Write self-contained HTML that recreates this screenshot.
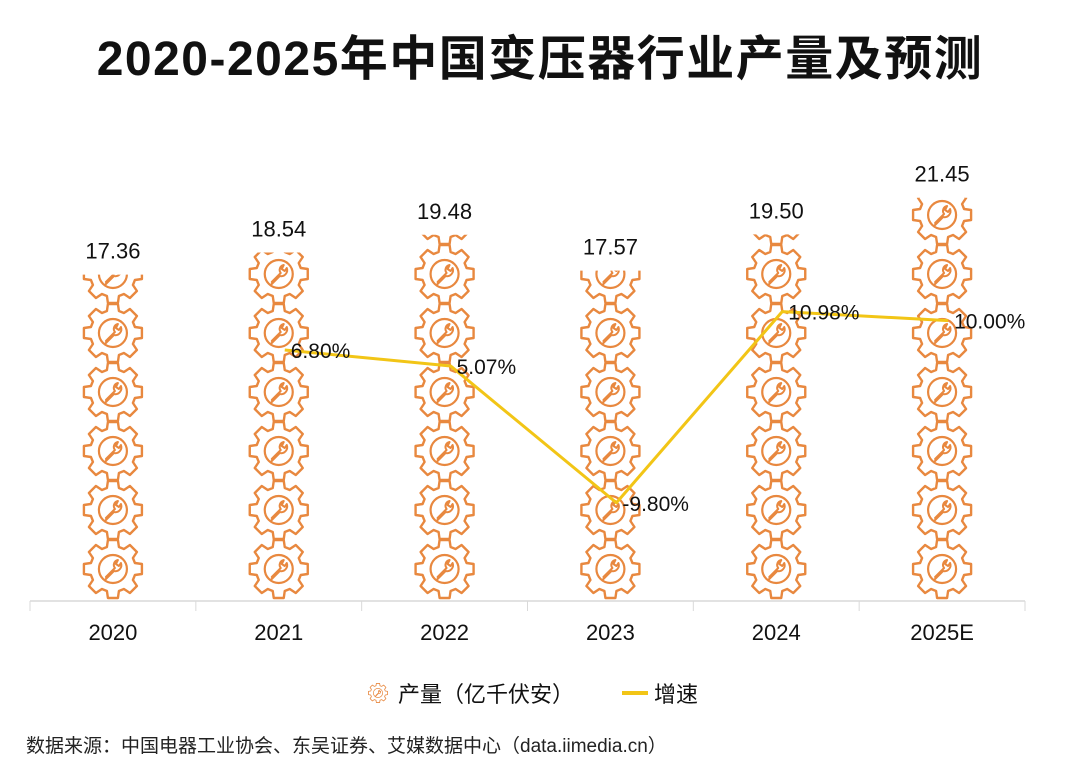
<!DOCTYPE html>
<html><head><meta charset="utf-8">
<style>
body{margin:0;background:#fff;}
svg{display:block;font-family:"Liberation Sans","Noto Sans CJK SC",sans-serif;}
</style></head>
<body>
<svg id="chart" width="1080" height="771" viewBox="0 0 1080 771" xmlns="http://www.w3.org/2000/svg">
<defs>
<g id="gear">
<path d="M-5,-29 L5,-29 L6,-22 L11,-20 L17,-24 L24,-17 L20,-11 L22,-6 L29,-5 L29,5 L22,6 L20,11 L24,17 L17,24 L11,20 L6,22 L5,29 L-5,29 L-6,22 L-11,20 L-17,24 L-24,17 L-20,11 L-22,6 L-29,5 L-29,-5 L-22,-6 L-20,-11 L-24,-17 L-17,-24 L-11,-20 L-6,-22 Z" fill="none" stroke="#E8883F" stroke-width="2.4" stroke-linejoin="round"/>
<circle r="14" fill="none" stroke="#E8883F" stroke-width="2.2"/>
<path d="M-7,8 L2,-1 A5,5 0 0 1 5,-9 L3,-5 L6,-3 L8,-6 A6,6 0 0 1 1,2 L-8,11" fill="none" stroke="#E8883F" stroke-width="2" stroke-linejoin="round" stroke-linecap="round"/>
</g>
</defs>
<text x="540" y="75" text-anchor="middle" font-size="48" font-weight="bold" letter-spacing="1.5" fill="#111">2020-2025年中国变压器行业产量及预测</text>
<g id="plot"></g>
<g>
<g>
<use href="#gear" transform="translate(378,693) scale(0.33)"/>
<text x="398" y="702" font-size="22" fill="#111">产量（亿千伏安）</text>
</g>
<g>
<line x1="622" y1="693" x2="648" y2="693" stroke="#F2C516" stroke-width="4"/>
<text x="654" y="702" font-size="22" fill="#111">增速</text>
</g>
</g>
<text x="26" y="752" font-size="19" fill="#222">数据来源：中国电器工业协会、东吴证券、艾媒数据中心（data.iimedia.cn）</text>
</svg>
<script>
const categories=["2020","2021","2022","2023","2024","2025E"];
const outputValues=[17.36,18.54,19.48,17.57,19.50,21.45];
const growthValues=[null,6.80,5.07,-9.80,10.98,10.00];
const growthLabels=["","6.80%","5.07%","-9.80%","10.98%","10.00%"];

const NS="http://www.w3.org/2000/svg";
const plot=document.getElementById('plot');
const x0=30,x1=1025,baseY=601;
const band=(x1-x0)/categories.length;
function xPos(i){return x0+band*(i+0.5);}
function yLeft(v){return baseY-v*18.8;}
function yRight(v){return 412.6-v*9.2;}
function mk(tag,attrs){const e=document.createElementNS(NS,tag);for(const k in attrs)e.setAttribute(k,attrs[k]);return e;}

const axis=mk('line',{x1:x0,y1:baseY,x2:x1,y2:baseY,stroke:'#d9d9d9','stroke-width':1.5});


plot.appendChild(axis);
for(let i=0;i<=categories.length;i++){
  const tx=x0+band*i;
  const t=mk('line',{x1:tx,y1:baseY,x2:tx,y2:baseY+10,stroke:'#d9d9d9','stroke-width':1});
  
  
  plot.appendChild(t);
}
const defs=document.querySelector('defs');
categories.forEach((c,i)=>{
  const cx=xPos(i),top=yLeft(outputValues[i]);
  const cp=mk('clipPath',{id:'clip'+i});
  cp.appendChild(mk('rect',{x:cx-40,y:top,width:80,height:baseY-top}));
  defs.appendChild(cp);
  const g=mk('g',{'clip-path':'url(#clip'+i+')'});
  
  
  for(let k=0;k<8;k++){
    const cy=baseY-32-59*k;
    if(cy+32<top)break;
    g.appendChild(mk('use',{href:'#gear',x:cx,y:cy}));
  }
  plot.appendChild(g);
  const vl=mk('text',{x:cx,y:top-16,'text-anchor':'middle','font-size':22,fill:'#111'});
  vl.textContent=outputValues[i].toFixed(2);
  
  
  plot.appendChild(vl);
  const xl=mk('text',{x:cx,y:640,'text-anchor':'middle','font-size':22,fill:'#111'});
  xl.textContent=c;
  
  
  plot.appendChild(xl);
});
let pts=[];
growthValues.forEach((v,i)=>{if(v!==null)pts.push([xPos(i)+6,yRight(v),i]);});
const line=mk('polyline',{points:pts.map(p=>p[0]+','+p[1]).join(' '),fill:'none',stroke:'#F2C516','stroke-width':3,'stroke-linejoin':'round'});


plot.appendChild(line);
pts.forEach(p=>{
  const t=mk('text',{x:p[0]+6,y:p[1]+8,'font-size':21,fill:'#111'});
  t.textContent=growthLabels[p[2]];
  
  
  plot.appendChild(t);
});
</script>
</body></html>
